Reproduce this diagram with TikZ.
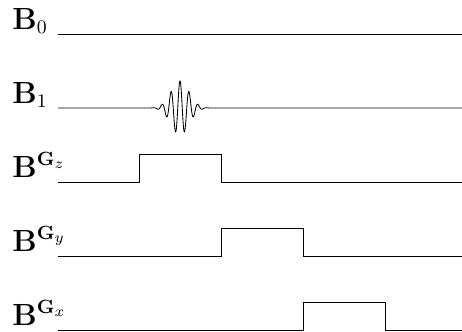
\documentclass[tikz,border=0pt]{standalone}
\usepackage{amsmath}
\begin{document}
\begin{tikzpicture}[x=0.47pt, y=-0.47pt, font=\fontsize{13.5}{16}\selectfont]
  \useasboundingbox (0,0) rectangle (462,331);
  % channel labels
  \foreach \y/\n/\t in {34/bzero/\mathbf{B}_0, 108/bone/\mathbf{B}_1, 182/gz/\mathbf{B}^{\mathbf{G}_z}, 256/gy/\mathbf{B}^{\mathbf{G}_y}, 330/gx/\mathbf{B}^{\mathbf{G}_x}} {
    \node[anchor=base west, inner sep=0pt] (\n) at (12,\y-5) {$\t$};
  }
  % static field
  \draw (58,34) -- (462,34);
  % rf pulse
  \draw (58,108) -- (150,108)
    -- plot[domain=-30:30, samples=240] ({180+\x}, {108-27*cos(\x*360/9)*exp(-\x*\x/160)})
    -- (462,108);
  % gradient lobes
  \foreach \y/\a in {182/139, 256/221, 330/303} {
    \draw (58,\y) -- (\a,\y) -- (\a,\y-28) -- (\a+82,\y-28) -- (\a+82,\y) -- (462,\y);
  }
\end{tikzpicture}
\end{document}
